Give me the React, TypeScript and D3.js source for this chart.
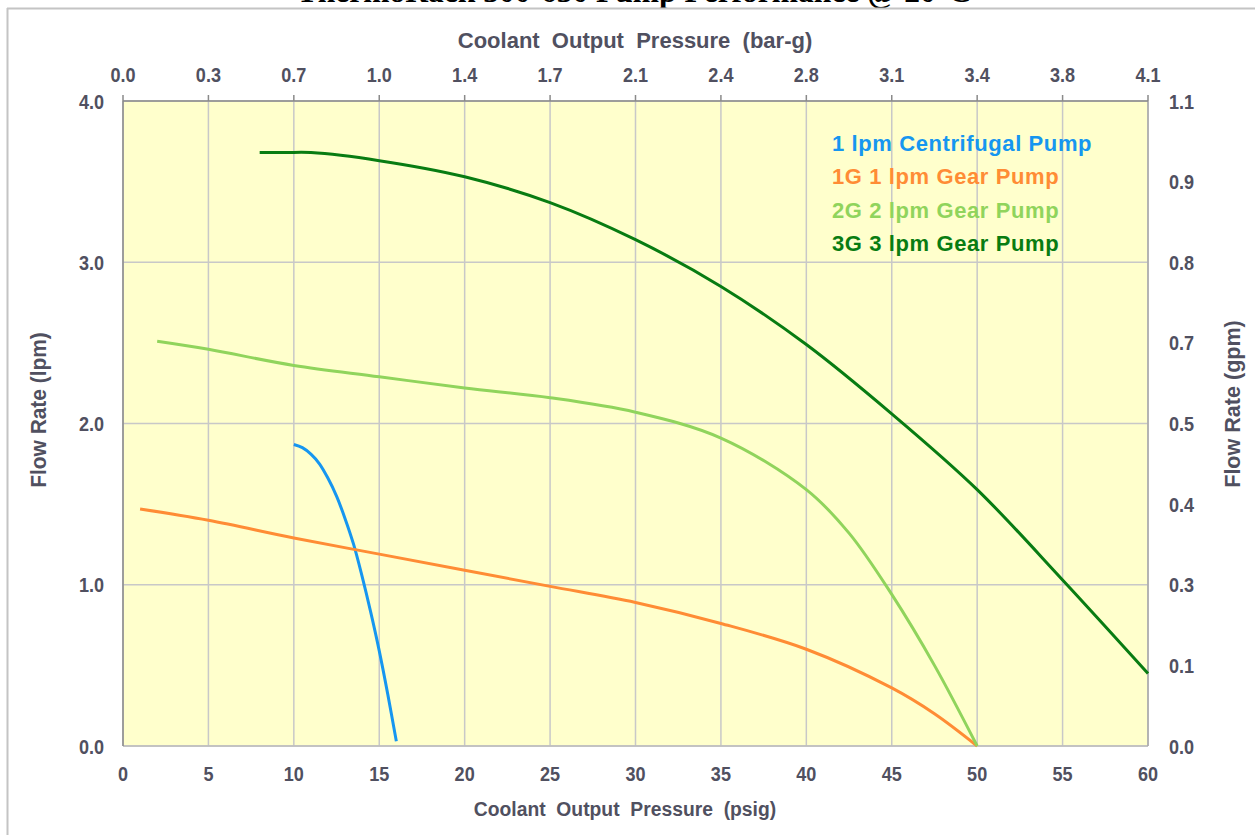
import React from "react";
import * as d3 from "d3";

const W = 1255;
const H = 835;

const titleText = "ThermoRack 300-630 Pump Performance @ 20°C";
const xTitleBottom = "Coolant  Output  Pressure  (psig)";
const xTitleTop = "Coolant  Output  Pressure  (bar-g)";
const yTitleLeft = "Flow Rate (lpm)";
const yTitleRight = "Flow Rate (gpm)";

const xTicks = [0, 5, 10, 15, 20, 25, 30, 35, 40, 45, 50, 55, 60];
const barLabels = ["0.0", "0.3", "0.7", "1.0", "1.4", "1.7", "2.1", "2.4", "2.8", "3.1", "3.4", "3.8", "4.1"];
const yTicks = [0, 1, 2, 3, 4];
const gpmPositions = [4, 3.5, 3, 2.5, 2, 1.5, 1, 0.5, 0];
const gpmLabels = ["1.1", "0.9", "0.8", "0.7", "0.5", "0.4", "0.3", "0.1", "0.0"];

const centrifugal: [number, number][] = [
  [10.0, 1.87], [10.5, 1.85], [11.0, 1.81], [11.5, 1.75], [12.0, 1.66], [12.5, 1.55],
  [13.0, 1.41], [13.5, 1.25], [14.0, 1.05], [14.5, 0.83], [15.0, 0.59], [15.5, 0.32], [16.0, 0.03],
];
const gear1G: [number, number][] = [
  [1, 1.47], [5, 1.40], [10, 1.29], [15, 1.19], [20, 1.09], [25, 0.99], [30, 0.89],
  [35, 0.76], [40, 0.60], [45, 0.36], [47.5, 0.2], [50, 0.0],
];
const gear2G: [number, number][] = [
  [2, 2.51], [5, 2.46], [10, 2.36], [15, 2.29], [20, 2.22], [25, 2.16], [30, 2.07],
  [35, 1.91], [40, 1.59], [42.5, 1.32], [45, 0.94], [47.5, 0.50], [50, 0.0],
];
const gear3G: [number, number][] = [
  [8, 3.68], [9.5, 3.68], [11, 3.68], [15, 3.63], [20, 3.53], [25, 3.37], [30, 3.14], [35, 2.85],
  [40, 2.49], [45, 2.06], [50, 1.59], [55, 1.03], [60, 0.45],
];

const seriesNames = ["1 lpm Centrifugal Pump", "1G 1 lpm Gear Pump", "2G 2 lpm Gear Pump", "3G 3 lpm Gear Pump"];
const seriesColors = ["#1696f0", "#ff8c35", "#90d45c", "#087c12"];
const seriesData = [centrifugal, gear1G, gear2G, gear3G];

const M = { left: 123, right: 1148, top: 101, bottom: 746 };
const labelColor = "#505060";
const sansFont = "'Liberation Sans', Arial, sans-serif";

function NText(props: {
  x: number;
  y: number;
  anchor?: "start" | "middle" | "end";
  size: number;
  sx?: number;
  rotate?: number;
  dy?: string;
  children: React.ReactNode;
}) {
  const { x, y, anchor = "middle", size, sx = 1, rotate = 0, dy, children } = props;
  return (
    <text
      transform={`translate(${x},${y}) rotate(${rotate}) scale(${sx},1)`}
      textAnchor={anchor}
      fontSize={size}
      dy={dy}
      style={{ whiteSpace: "pre" }}
    >
      {children}
    </text>
  );
}

export default function App() {
  const x = d3.scaleLinear().domain([0, 60]).range([M.left, M.right]);
  const y = d3.scaleLinear().domain([0, 4]).range([M.bottom, M.top]);
  const line = d3
    .line<[number, number]>()
    .x((d) => x(d[0]))
    .y((d) => y(d[1]))
    .curve(d3.curveCatmullRom.alpha(0.5));

  const tickSize = 21;
  const tickSx = 0.86;

  return (
    <svg
      width={W}
      height={H}
      style={{ position: "absolute", left: 0, top: 0, background: "#fff" }}
    >
      <rect x={0} y={0} width={W} height={H} fill="#fff" />
      <text
        x={634}
        y={2}
        textAnchor="middle"
        fontFamily="'Liberation Serif', 'Times New Roman', serif"
        fontWeight="bold"
        fontSize={31.5}
        fill="#000"
      >
        {titleText}
      </text>
      <rect x={0} y={8} width={W} height={H} fill="#fff" />
      <line x1={7} x2={W} y1={8.5} y2={8.5} stroke="#c4c4c4" strokeWidth={2} />
      <line x1={7.5} x2={7.5} y1={8} y2={H} stroke="#c4c4c4" strokeWidth={2} />

      <rect x={M.left} y={M.top} width={M.right - M.left} height={M.bottom - M.top} fill="#ffffcc" />
      {xTicks.map((t) => (
        <line key={"gx" + t} x1={x(t)} x2={x(t)} y1={M.top} y2={M.bottom} stroke="#c8c8c8" strokeWidth={1.5} />
      ))}
      {yTicks.map((t) => (
        <line key={"gy" + t} x1={M.left} x2={M.right} y1={y(t)} y2={y(t)} stroke="#c8c8c8" strokeWidth={1.5} />
      ))}
      <line x1={M.left} x2={M.right} y1={M.bottom} y2={M.bottom} stroke="#bdbdbd" strokeWidth={1.5} />
      <line x1={M.right} x2={M.right} y1={M.top} y2={M.bottom} stroke="#a8a8a8" strokeWidth={1.5} />
      <line x1={M.left} x2={M.left} y1={M.top} y2={M.bottom} stroke="#8a8a8a" strokeWidth={1.5} />
      <line x1={M.left} x2={M.right} y1={M.top} y2={M.top} stroke="#8a8a8a" strokeWidth={1.5} />
      {xTicks.map((t) => (
        <line key={"tt" + t} x1={x(t)} x2={x(t)} y1={M.top - 6} y2={M.top} stroke="#8a8a8a" strokeWidth={1.5} />
      ))}

      {seriesData.map((d, i) => (
        <path key={"s" + i} d={line(d) || ""} fill="none" stroke={seriesColors[i]} strokeWidth={3} strokeLinejoin="round" />
      ))}

      <g fontFamily={sansFont} fontWeight="bold" fill={labelColor}>
        {xTicks.map((t) => (
          <NText key={"bx" + t} x={x(t)} y={781} size={tickSize} sx={tickSx}>{String(t)}</NText>
        ))}
        {xTicks.map((t, i) => (
          <NText key={"tx" + t} x={x(t)} y={82} size={tickSize} sx={tickSx}>{barLabels[i]}</NText>
        ))}
        {yTicks.map((t) => (
          <NText key={"ly" + t} x={104} y={y(t)} dy="0.36em" anchor="end" size={tickSize} sx={tickSx}>{t.toFixed(1)}</NText>
        ))}
        {gpmPositions.map((p, i) => (
          <NText key={"ry" + i} x={1169} y={y(p)} dy="0.36em" anchor="start" size={tickSize} sx={tickSx}>{gpmLabels[i]}</NText>
        ))}
        <NText x={625} y={816} size={21} sx={0.92}>{xTitleBottom}</NText>
        <NText x={635} y={48} size={22} sx={1.0}>{xTitleTop}</NText>
        <NText x={46} y={410} rotate={-90} size={22} sx={0.95}>{yTitleLeft}</NText>
        <NText x={1240} y={404} rotate={-90} size={22} sx={0.98}>{yTitleRight}</NText>
      </g>

      <g fontFamily={sansFont} fontWeight="bold" fontSize={22} letterSpacing={0.6}>
        {seriesNames.map((n, i) => (
          <text key={"lg" + i} x={832} y={143 + i * 33.5} dy="0.36em" fill={seriesColors[i]}>{n}</text>
        ))}
      </g>
    </svg>
  );
}
